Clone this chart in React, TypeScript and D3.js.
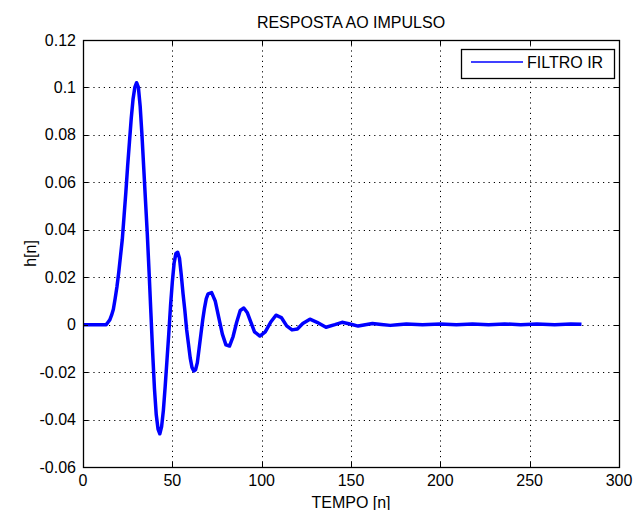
import React from "react";
import * as d3 from "d3";

const title = "RESPOSTA AO IMPULSO";
const xLabel = "TEMPO [n]";
const yLabel = "h[n]";
const legendLabel = "FILTRO IR";

const xTicks = [0, 50, 100, 150, 200, 250, 300];
const yTicks = [-0.06, -0.04, -0.02, 0, 0.02, 0.04, 0.06, 0.08, 0.1, 0.12];
const yTickLabels = ["-0.06", "-0.04", "-0.02", "0", "0.02", "0.04", "0.06", "0.08", "0.1", "0.12"];

const sampleN = [
  0, 13, 14, 15, 16, 17, 18, 19, 20, 21, 22, 23, 24, 25, 26, 27, 28, 29, 30, 31, 32, 33, 34, 35, 36, 37, 38, 39,
  40, 41, 42, 43, 44, 45, 46, 47, 48, 49, 50, 51, 52, 53, 54, 55, 56, 57, 58, 59, 60, 61, 62, 63, 64, 65, 66,
  67, 68, 69, 70, 72, 74, 76, 78, 80, 82, 84, 86, 88, 90, 92, 94, 96, 99, 102, 105, 108, 111, 114, 117, 120,
  123, 127, 131, 136, 141, 145, 150, 154, 158, 162, 167, 172, 176, 181, 190, 200, 209, 218, 227, 236, 245,
  254, 264, 273, 279,
];
const sampleH = [
  0, 0, 0.001, 0.002, 0.004, 0.0065, 0.011, 0.016, 0.022, 0.029, 0.036, 0.046, 0.056, 0.067, 0.077, 0.087,
  0.095, 0.1, 0.102, 0.1, 0.092, 0.08, 0.066, 0.052, 0.038, 0.022, 0.005, -0.012,
  -0.027, -0.038, -0.044, -0.046, -0.043, -0.036, -0.026, -0.015, -0.004, 0.008, 0.018, 0.026, 0.03, 0.0305,
  0.028, 0.021, 0.013, 0.006, -0.002, -0.008, -0.014, -0.018, -0.0195, -0.019, -0.016, -0.01, -0.004,
  0.002, 0.007, 0.011, 0.013, 0.0135, 0.01, 0.003, -0.004, -0.0085, -0.009, -0.005, 0.001, 0.006, 0.007,
  0.005, 0.001, -0.003, -0.0048, -0.003, 0.001, 0.004, 0.003, -0.0005, -0.0022, -0.0018,
  0.0005, 0.0023, 0.001, -0.0011, 0, 0.001, 0.0002, -0.0006, 0, 0.0005, 0.0001, -0.0003, 0, 0.0003, 0, 0.0003,
  0, 0.0003, 0, 0.0003, 0, 0.0003, 0, 0.0003, 0.0002,
];

const W = 636;
const H = 510;
const L = 83;
const R = 619;
const T = 40;
const B = 467;
const FONT = "'Liberation Sans', Arial, Helvetica, sans-serif";

export default function App() {
  const x = d3.scaleLinear().domain([0, 300]).range([L, R]);
  const y = d3.scaleLinear().domain([-0.06, 0.12]).range([B, T]);
  const pts: [number, number][] = sampleN.map((n, i) => [n, sampleH[i]]);
  const line = d3
    .line<[number, number]>()
    .x((d) => x(d[0]))
    .y((d) => y(d[1]));
  const tickLen = 5;
  const fs = 16;

  return (
    <svg
      width={W}
      height={H}
      style={{ position: "absolute", left: 0, top: 0, background: "#fff" }}
      fontFamily={FONT}
    >
      <rect x={0} y={0} width={W} height={H} fill="#fff" />
      {/* grid */}
      {xTicks.slice(1, -1).map((t) => (
        <line
          key={"gx" + t}
          x1={Math.round(x(t)) + 0.5}
          x2={Math.round(x(t)) + 0.5}
          y1={T}
          y2={B}
          stroke="#000"
          strokeWidth={1}
          strokeDasharray="1.2,4"
        />
      ))}
      {yTicks.slice(1, -1).map((t) => (
        <line
          key={"gy" + t}
          x1={L}
          x2={R}
          y1={Math.round(y(t)) + 0.5}
          y2={Math.round(y(t)) + 0.5}
          stroke="#000"
          strokeWidth={1}
          strokeDasharray="1.2,4"
        />
      ))}
      {/* data line */}
      <path
        d={line(pts) || ""}
        fill="none"
        stroke="#0000ff"
        strokeWidth={3.5}
        strokeLinejoin="round"
        strokeLinecap="butt"
      />
      {/* ticks */}
      {xTicks.map((t) => (
        <g key={"tx" + t}>
          <line x1={Math.round(x(t)) + 0.5} x2={Math.round(x(t)) + 0.5} y1={B} y2={B - tickLen} stroke="#000" />
          <line x1={Math.round(x(t)) + 0.5} x2={Math.round(x(t)) + 0.5} y1={T} y2={T + tickLen} stroke="#000" />
          <text x={x(t)} y={B + 19} textAnchor="middle" fontSize={fs} fill="#000">
            {t}
          </text>
        </g>
      ))}
      {yTicks.map((t, i) => (
        <g key={"ty" + t}>
          <line x1={L} x2={L + tickLen} y1={Math.round(y(t)) + 0.5} y2={Math.round(y(t)) + 0.5} stroke="#000" />
          <line x1={R} x2={R - tickLen} y1={Math.round(y(t)) + 0.5} y2={Math.round(y(t)) + 0.5} stroke="#000" />
          <text x={L - 7} y={y(t)} dy="0.35em" textAnchor="end" fontSize={fs} fill="#000">
            {yTickLabels[i]}
          </text>
        </g>
      ))}
      {/* box */}
      <rect x={L + 0.5} y={T + 0.5} width={R - L} height={B - T} fill="none" stroke="#000" strokeWidth={1.3} />
      {/* legend */}
      <rect x={461.5} y={49.5} width={153} height={29} fill="#fff" stroke="#000" strokeWidth={1.3} />
      <line x1={471} x2={523} y1={62} y2={62} stroke="#0000ff" strokeWidth={1.5} />
      <text x={527} y={62} dy="0.35em" fontSize={fs} fill="#000">
        {legendLabel}
      </text>
      {/* labels */}
      <text x={(L + R) / 2} y={22} dy="0.35em" textAnchor="middle" fontSize={fs} fill="#000">
        {title}
      </text>
      <text x={(L + R) / 2} y={502} dy="0.35em" textAnchor="middle" fontSize={fs} fill="#000">
        {xLabel}
      </text>
      <text
        transform={`translate(30,${(T + B) / 2}) rotate(-90)`}
        dy="0.35em"
        textAnchor="middle"
        fontSize={fs}
        fill="#000"
      >
        {yLabel}
      </text>
    </svg>
  );
}
